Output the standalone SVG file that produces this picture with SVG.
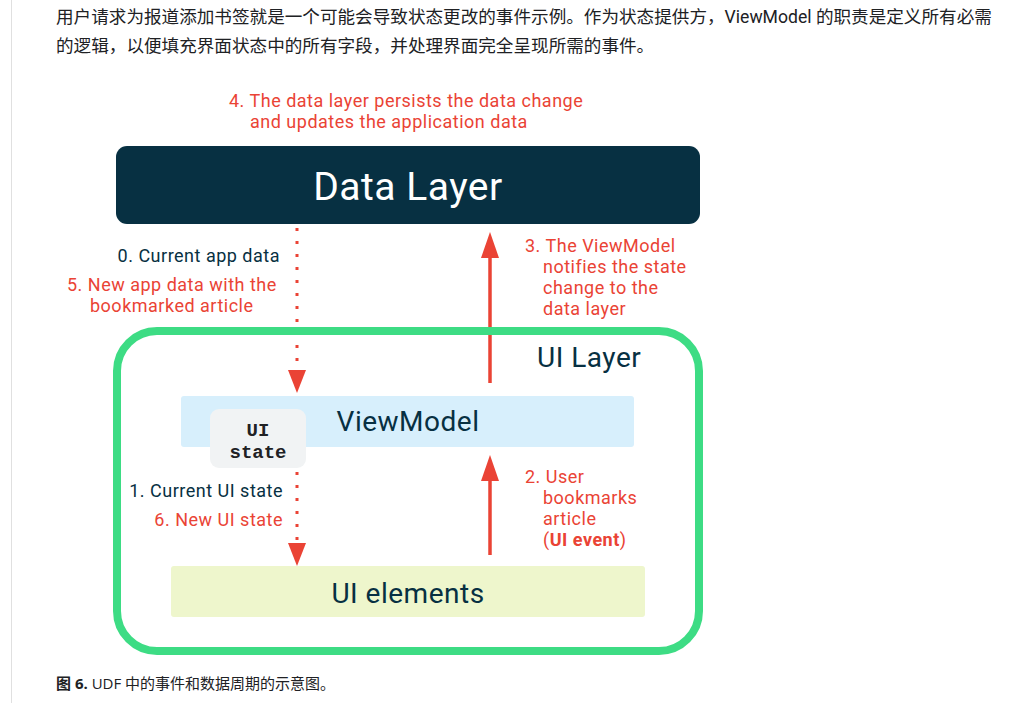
<svg xmlns="http://www.w3.org/2000/svg" width="1031" height="703" viewBox="0 0 1031 703">
<style>
.body{font-family:Roboto,"Noto Sans CJK SC",sans-serif;font-size:17.6px;fill:#202124}
.red{font-family:Roboto,"Open Sans",sans-serif;font-size:18px;letter-spacing:0.5px;fill:#ea4335}
.dark{font-family:Roboto,"Open Sans",sans-serif;font-size:18px;letter-spacing:0.5px;fill:#073042}
.big{font-family:Roboto,"Open Sans",sans-serif;font-size:28px;letter-spacing:0.5px;fill:#073042}
.mono{font-family:"Liberation Mono","DejaVu Sans Mono",monospace;font-size:19px;font-weight:bold;fill:#202124}
</style>
<rect width="1031" height="703" fill="#ffffff"/>
<line x1="11.5" y1="0" x2="11.5" y2="703" stroke="#e0e0e0" stroke-width="1"/>
<g id="paragraph">
<text class="body" x="56" y="23">用户请求为报道添加书签就是一个可能会导致状态更改的事件示例。作为状态提供方，ViewModel 的职责是定义所有必需</text>
<text class="body" x="56" y="52">的逻辑，以便填充界面状态中的所有字段，并处理界面完全呈现所需的事件。</text>
</g>
<g id="connectors">
<line x1="297" y1="228" x2="297" y2="372" stroke="#ea4335" stroke-width="3" stroke-dasharray="3,10"/>
<path d="M288,370 L306,370 L297,393 z" fill="#ea4335"/>
<line x1="297" y1="472" x2="297" y2="544" stroke="#ea4335" stroke-width="3" stroke-dasharray="3,10"/>
<path d="M288,543 L306,543 L297,566 z" fill="#ea4335"/>
<line x1="490" y1="383" x2="490" y2="255" stroke="#ea4335" stroke-width="3.5"/>
<path d="M481,258 L499,258 L490,232 z" fill="#ea4335"/>
<line x1="490" y1="555" x2="490" y2="478" stroke="#ea4335" stroke-width="3.5"/>
<path d="M481,481 L499,481 L490,455 z" fill="#ea4335"/>
</g>
<g id="label4">
<text class="red" x="229" y="107">4. The data layer persists the data change</text>
<text class="red" x="250" y="128">and updates the application data</text>
</g>
<g id="data-layer">
<rect x="116" y="146" width="584" height="78" rx="11" fill="#073042"/>
<text x="408" y="200" text-anchor="middle" font-family="Roboto,'Open Sans',sans-serif" font-size="39" letter-spacing="0.5" fill="#ffffff">Data Layer</text>
</g>
<g id="label0">
<text class="dark" x="280" y="262" text-anchor="end">0. Current app data</text>
<text class="red" x="67" y="291">5. New app data with the</text>
<text class="red" x="90" y="312">bookmarked article</text>
</g>
<g id="label3">
<text class="red" x="525" y="252">3. The ViewModel</text>
<text class="red" x="543" y="273">notifies the state</text>
<text class="red" x="543" y="294">change to the</text>
<text class="red" x="543" y="315">data layer</text>
</g>
<g id="ui-layer">
<rect x="117" y="331" width="582" height="320" rx="40" fill="none" stroke="#3ddc84" stroke-width="8"/>
<text class="big" x="537" y="367">UI Layer</text>
</g>
<g id="viewmodel">
<rect x="181" y="396" width="453" height="51" rx="3" fill="#d7effc"/>
<text class="big" x="408" y="431" text-anchor="middle">ViewModel</text>
</g>
<g id="ui-state">
<rect x="210" y="409" width="96" height="59" rx="9" fill="#f1f3f4"/>
<text class="mono" x="258" y="436" text-anchor="middle">UI</text>
<text class="mono" x="258" y="458" text-anchor="middle">state</text>
</g>
<g id="label1">
<text class="dark" x="283" y="497" text-anchor="end">1. Current UI state</text>
<text class="red" x="283" y="526" text-anchor="end">6. New UI state</text>
</g>
<g id="label2">
<text class="red" x="525" y="483">2. User</text>
<text class="red" x="543" y="504">bookmarks</text>
<text class="red" x="543" y="525">article</text>
<text class="red" x="543" y="546">(<tspan font-weight="bold">UI event</tspan>)</text>
</g>
<g id="ui-elements">
<rect x="171" y="566" width="474" height="51" rx="3" fill="#eef6cc"/>
<text class="big" x="408" y="603" text-anchor="middle">UI elements</text>
</g>
<g id="caption">
<text font-family="'Open Sans','Noto Sans CJK SC',sans-serif" font-size="15" fill="#202124" x="56" y="689"><tspan font-weight="bold">图 6.</tspan> UDF 中的事件和数据周期的示意图。</text>
</g>
</svg>
